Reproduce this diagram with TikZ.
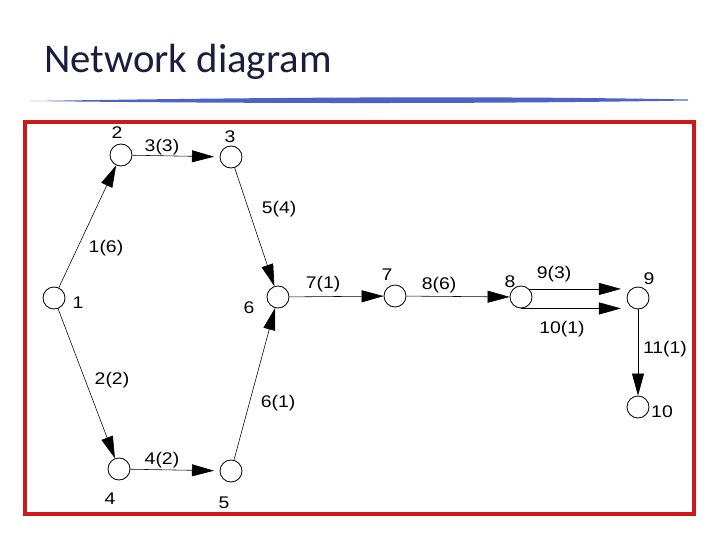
\documentclass[tikz,border=0pt]{standalone}
\usepackage{fontspec}
\setmainfont{Liberation Sans}
\newfontfamily\netfont[FakeStretch=1.15]{Liberation Sans}
\newfontfamily\titlefont{Carlito}
\usepackage{xcolor}
\usetikzlibrary{arrows.meta}
\definecolor{framered}{RGB}{205,25,25}
\definecolor{swooshblue}{RGB}{78,98,198}
\definecolor{titleink}{RGB}{25,30,60}

\tikzset{
  event/.style={circle, draw, semithick, inner sep=0pt, minimum size=0.55cm},
  num/.style={font=\netfont\fontsize{12}{14}\selectfont, inner sep=0pt},
  act/.style={thin, -{Triangle[length=0.55cm,width=0.3cm]}}
}

\begin{document}
\begin{tikzpicture}[x=0.025cm, y=-0.025cm]
    \useasboundingbox (0,0) rectangle (720,540);

    % title and swoosh
    \node[anchor=base west, inner sep=0pt, text=titleink, font=\titlefont\fontsize{29}{34}\selectfont] (title) at (44,72) {Network diagram};
    \fill[swooshblue] (30,101) .. controls (200,98.5) and (450,95) .. (688,99.5)
        -- (688,100.5) .. controls (450,104.5) and (200,103) .. cycle;

    % frame
    \draw[framered, line width=2.2pt] (25,122) rectangle (694,514);

    % events
    \node[event] (n1) at (54,298) {};
    \node[event] (n2) at (121,155) {};
    \node[event] (n3) at (231,157) {};
    \node[event] (n4) at (119,469) {};
    \node[event] (n5) at (231,471) {};
    \node[event] (n6) at (278,297) {};
    \node[event] (n7) at (395,296) {};
    \node[event] (n8) at (521,297) {};
    \node[event] (n9) at (638,298) {};
    \node[event] (n10) at (638,407) {};

    % event numbers
    \node[num] (l1) at (78,303) {1};
    \node[num] (l2) at (117,133) {2};
    \node[num] (l3) at (230,137) {3};
    \node[num] (l4) at (110,499) {4};
    \node[num] (l5) at (224,503) {5};
    \node[num] (l6) at (249,308) {6};
    \node[num] (l7) at (387,275) {7};
    \node[num] (l8) at (510,282) {8};
    \node[num] (l9) at (649,279) {9};
    \node[num] (l10) at (662,412) {10};

    % activities
    \draw[act] (n1) -- (n2);
    \draw[act, shorten >=4] (n2) -- (n3);
    \draw[act] (n3) -- (n6);
    \draw[act] (n1) -- (n4);
    \draw[act, shorten >=4] (n4) -- (n5);
    \draw[act] (n5) -- (n6);
    \draw[act] (n6) -- (n7);
    \draw[act] (n7) -- (n8);
    \draw[act, shorten >=4] (n8.45) -- (n8.45 -| n9.west);
    \draw[act, shorten >=4] (n8.south) -- (n8.south -| n9.west);
    \draw[act] (n9) -- (n10);

    % durations
    \node[num] (d1) at (106,248) {1(6)};
    \node[num] (d2) at (112,380) {2(2)};
    \node[num] (d3) at (162,147) {3(3)};
    \node[num] (d4) at (162,460) {4(2)};
    \node[num] (d5) at (279,209) {5(4)};
    \node[num] (d6) at (278,403) {6(1)};
    \node[num] (d7) at (323,284) {7(1)};
    \node[num] (d8) at (439,285) {8(6)};
    \node[num] (d9) at (554,274) {9(3)};
    \node[num] (d10) at (562,329) {10(1)};
    \node[num] (d11) at (665,349) {11(1)};
\end{tikzpicture}
\end{document}
